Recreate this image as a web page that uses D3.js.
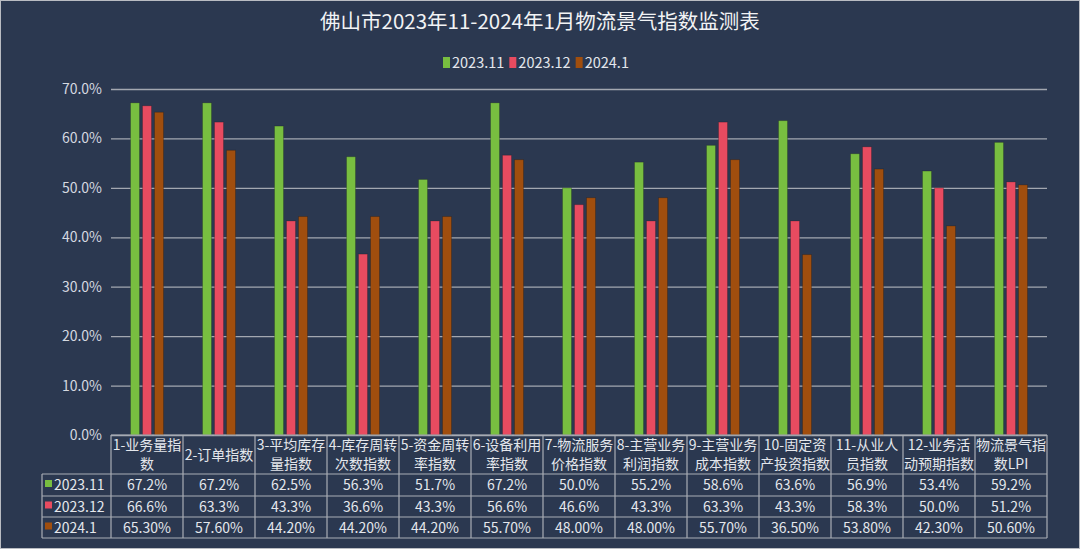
<!DOCTYPE html>
<html lang="zh-CN">
<head>
<meta charset="UTF-8">
<title>佛山市物流景气指数监测表</title>
<script src="https://d3js.org/d3.v7.min.js"></script>
<style>
  body { margin: 0; background: #2b3850; }
  svg text { font-family: "Noto Sans CJK SC", "Noto Sans", sans-serif; fill: #e4e7ec; }
</style>
</head>
<body>
<svg id="chart" width="1080" height="549"></svg>
<script>
// 数据
const categories = [
  "1-业务量指\n数", "2-订单指数", "3-平均库存\n量指数", "4-库存周转\n次数指数",
  "5-资金周转\n率指数", "6-设备利用\n率指数", "7-物流服务\n价格指数", "8-主营业务\n利润指数",
  "9-主营业务\n成本指数", "10-固定资\n产投资指数", "11-从业人\n员指数", "12-业务活\n动预期指数",
  "物流景气指\n数LPI"
];
const seriesNames = ["2023.11", "2023.12", "2024.1"];
const values202311 = [67.2, 67.2, 62.5, 56.3, 51.7, 67.2, 50.0, 55.2, 58.6, 63.6, 56.9, 53.4, 59.2];
const values202312 = [66.6, 63.3, 43.3, 36.6, 43.3, 56.6, 46.6, 43.3, 63.3, 43.3, 58.3, 50.0, 51.2];
const values202401 = [65.3, 57.6, 44.2, 44.2, 44.2, 55.7, 48.0, 48.0, 55.7, 36.5, 53.8, 42.3, 50.6];
const labelDecimals = [1, 1, 2];
const yTicks = [0, 10, 20, 30, 40, 50, 60, 70];
const title = "佛山市2023年11-2024年1月物流景气指数监测表";

const colors = ["#78be40", "#e84b60", "#a04e0e"];
const series = [values202311, values202312, values202401];

const width = 1080, height = 549;
const plot = { left: 111, right: 1047, top: 89, bottom: 435 };
const rowY = [435, 474, 496, 517, 538]; // 表格行边界
const legendColLeft = 42;

const svg = d3.select("#chart");

// 背景和外框
svg.append("rect").attr("width", width).attr("height", height).attr("fill", "#2b3850");
svg.append("rect").attr("x", 0.5).attr("y", 0.5).attr("width", width - 1).attr("height", height - 1)
  .attr("fill", "none").attr("stroke", "#b9bcc2").attr("stroke-width", 1);

// 比例尺
const x0 = d3.scaleBand().domain(d3.range(categories.length)).range([plot.left, plot.right]);
const x1 = d3.scaleBand().domain(d3.range(seriesNames.length)).range([-16.5, 16.5]).paddingInner(0.25);
const y = d3.scaleLinear().domain([0, 70]).range([plot.bottom, plot.top]);

// 网格线 + y 轴
const yAxis = d3.axisLeft(y).tickValues(yTicks).tickFormat(d => d.toFixed(1) + "%")
  .tickSize(-(plot.right - plot.left)).tickPadding(9);
const gy = svg.append("g").attr("transform", `translate(${plot.left},0)`).call(yAxis);
gy.select(".domain").remove();
gy.selectAll("line").attr("stroke", "#a3a7b0").attr("stroke-width", 1.3);
gy.selectAll("text").attr("font-size", 14).style("fill", "#d5d9e0");

// 柱子
series.forEach((vals, s) => {
  svg.append("g").selectAll("rect")
    .data(vals)
    .join("rect")
    .attr("x", (d, i) => x0(i) + x0.bandwidth() / 2 + x1(s))
    .attr("width", x1.bandwidth())
    .attr("y", d => y(d))
    .attr("height", d => y(0) - y(d))
    .attr("fill", colors[s])
    .attr("stroke", "rgba(0,0,0,0.2)")
    .attr("stroke-width", 1);
});

// 标题
svg.append("text").attr("x", width / 2).attr("y", 29).attr("text-anchor", "middle")
  .attr("font-size", 20.5).style("fill", "#f2f3f5").text(title);

// 图例
const legend = svg.append("g").attr("transform", "translate(0,63)");
let lx = 443;
seriesNames.forEach((name, s) => {
  legend.append("rect").attr("x", lx).attr("y", -6).attr("width", 7).attr("height", 11).attr("fill", colors[s]);
  const t = legend.append("text").attr("x", lx + 9).attr("y", 5).attr("font-size", 14.5).text(name);
  lx += 9 + t.node().getComputedTextLength() + 5;
});

// 数据表
const table = svg.append("g");
const gridColor = "#a9adb5";
// 横线
rowY.forEach((yy, r) => {
  table.append("line")
    .attr("x1", r === 0 ? plot.left : legendColLeft).attr("x2", plot.right)
    .attr("y1", yy).attr("y2", yy)
    .attr("stroke", gridColor).attr("stroke-width", 1.2);
});
// 竖线
table.append("line").attr("x1", legendColLeft).attr("x2", legendColLeft)
  .attr("y1", rowY[1]).attr("y2", rowY[4]).attr("stroke", gridColor).attr("stroke-width", 1.2);
d3.range(categories.length + 1).forEach(i => {
  const xx = i < categories.length ? x0(i) : plot.right;
  table.append("line").attr("x1", xx).attr("x2", xx)
    .attr("y1", rowY[0]).attr("y2", rowY[4]).attr("stroke", gridColor).attr("stroke-width", 1.2);
});

// 表头
categories.forEach((c, i) => {
  const lines = c.split("\n");
  const cx = x0(i) + x0.bandwidth() / 2;
  const midY = (rowY[0] + rowY[1]) / 2;
  const lh = 19;
  lines.forEach((ln, k) => {
    table.append("text")
      .attr("x", cx)
      .attr("y", midY + (k - (lines.length - 1) / 2) * lh + 5)
      .attr("text-anchor", "middle").attr("font-size", 14)
      .text(ln);
  });
});

// 数据行
series.forEach((vals, s) => {
  const y0 = rowY[s + 1], y1 = rowY[s + 2];
  const cy = (y0 + y1) / 2 + 5;
  table.append("rect").attr("x", legendColLeft + 3).attr("y", cy - 10).attr("width", 7).attr("height", 7)
    .attr("fill", colors[s]);
  table.append("text").attr("x", legendColLeft + 12).attr("y", cy).attr("font-size", 14).text(seriesNames[s]);
  vals.forEach((v, i) => {
    table.append("text")
      .attr("x", x0(i) + x0.bandwidth() / 2).attr("y", cy)
      .attr("text-anchor", "middle").attr("font-size", 14)
      .text(v.toFixed(labelDecimals[s]) + "%");
  });
});
</script>
</body>
</html>
